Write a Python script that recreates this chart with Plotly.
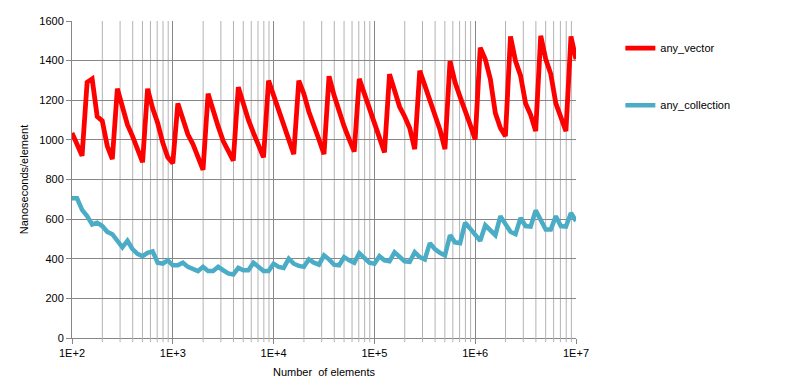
import numpy as np
import plotly.graph_objects as go

# sample sizes: 20 points per decade from 1e2 to 1e7
n_elements = [100 * 10 ** (k / 20) for k in range(101)]

any_vector = [
    1035, 978, 920, 1291, 1308, 1118, 1096, 969, 903, 1258,
    1167, 1077, 1019, 953, 887, 1258, 1159, 1085, 986, 912,
    882, 1184, 1101, 1027, 978, 912, 849, 1233, 1142, 1068,
    994, 944, 895, 1266, 1176, 1101, 1035, 969, 912, 1299,
    1225, 1151, 1085, 1002, 928, 1299, 1233, 1142, 1077, 1002,
    928, 1321, 1225, 1142, 1068, 1002, 941, 1308, 1230, 1155,
    1080, 1010, 937, 1332, 1242, 1167, 1118, 1060, 953, 1349,
    1275, 1192, 1126, 1052, 953, 1398, 1291, 1217, 1151, 1077,
    1002, 1465, 1407, 1308, 1135, 1060, 1019, 1522, 1398, 1324,
    1184, 1126, 1044, 1525, 1407, 1332, 1184, 1118, 1044, 1522,
    1407,
]

any_collection = [
    705, 705, 647, 615, 573, 582, 565, 536, 524, 491,
    458, 491, 449, 425, 413, 430, 437, 380, 375, 392,
    367, 367, 380, 359, 350, 338, 359, 338, 338, 359,
    342, 326, 321, 354, 342, 342, 380, 359, 338, 338,
    375, 359, 354, 400, 375, 364, 359, 397, 380, 370,
    417, 397, 370, 367, 408, 392, 380, 428, 403, 380,
    375, 413, 392, 387, 433, 408, 387, 384, 433, 408,
    397, 479, 449, 430, 417, 519, 483, 479, 582, 552,
    519, 491, 569, 541, 519, 615, 573, 536, 524, 606,
    565, 562, 644, 598, 548, 548, 615, 565, 562, 631,
    590,
]

x_tickvals = [1e2, 1e3, 1e4, 1e5, 1e6, 1e7]
x_ticktext = ["1E+2", "1E+3", "1E+4", "1E+5", "1E+6", "1E+7"]
y_tickvals = [0, 200, 400, 600, 800, 1000, 1200, 1400, 1600]

FONT = "Liberation Sans"
GRID = "#878787"
MINOR = "#b3b3b3"

fig = go.Figure()
fig.add_trace(go.Scatter(
    x=n_elements, y=any_vector, mode="lines", name="any_vector",
    line=dict(color="#ff0000", width=4.8), legendgroup="a",
))
fig.add_trace(go.Scatter(
    x=n_elements, y=any_collection, mode="lines", name="any_collection",
    line=dict(color="#4bacc6", width=4.5), legendgroup="b",
))

# minor vertical gridlines (2..9 within each decade) with small ticks below the axis
for dec in x_tickvals[:-1]:
    for m in range(2, 10):
        xv = dec * m
        fig.add_shape(type="line", xref="x", yref="paper", x0=xv, x1=xv, y0=0, y1=1,
                      line=dict(color=MINOR, width=1), layer="below")
        fig.add_shape(type="line", xref="x", yref="paper", x0=xv, x1=xv, y0=0, y1=-0.013,
                      line=dict(color=MINOR, width=1), layer="above")

# page body has an 8px margin: compensate so the plot sits where the reference has it
fig.update_layout(
    width=787, height=382,
    margin=dict(l=64, r=219, t=7, b=52),
    paper_bgcolor="white", plot_bgcolor="white",
    font=dict(family=FONT, size=11, color="#000000"),
    showlegend=True,
    legend=dict(
        x=1.088, y=0.96, xanchor="left", yanchor="top",
        font=dict(family=FONT, size=11, color="#000000"),
        tracegroupgap=38, itemwidth=30,
        bgcolor="rgba(0,0,0,0)",
    ),
)

fig.update_xaxes(
    type="log", range=[2, 7],
    tickmode="array", tickvals=x_tickvals, ticktext=x_ticktext,
    showgrid=True, gridcolor=GRID, gridwidth=1,
    ticks="outside", ticklen=5, tickcolor=GRID,
    showline=True, linecolor=GRID, linewidth=1, mirror=False,
    zeroline=False, layer="below traces",
    title=dict(text="Number  of elements", font=dict(family=FONT, size=11), standoff=10),
    tickfont=dict(family=FONT, size=11),
)
fig.update_yaxes(
    type="linear", range=[0, 1600], tickmode="array", tickvals=y_tickvals,
    showgrid=True, gridcolor=GRID, gridwidth=1,
    ticks="outside", ticklen=5, tickcolor=GRID,
    showline=True, linecolor=GRID, linewidth=1,
    zeroline=False, layer="below traces",
    title=dict(text="Nanoseconds/element", font=dict(family=FONT, size=11), standoff=8),
    tickfont=dict(family=FONT, size=11),
)

fig.write_html("out.html")
